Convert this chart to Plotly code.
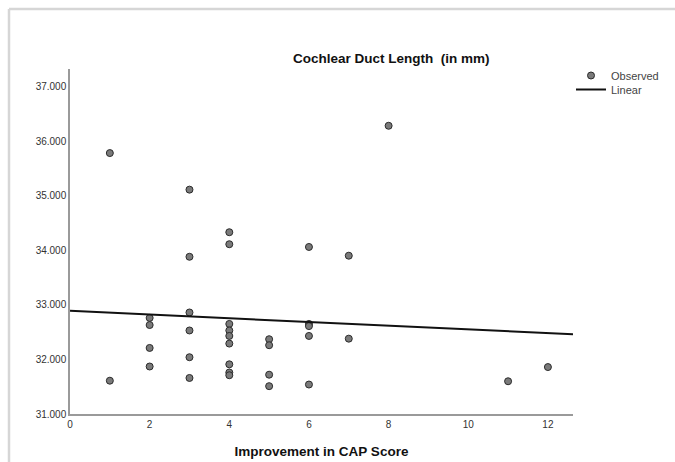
import plotly.graph_objects as go

# Improvement in CAP score (x) vs cochlear duct length in mm (y)
cap_improvement = [1, 1,
                   2, 2, 2, 2,
                   3, 3, 3, 3, 3, 3,
                   4, 4, 4, 4, 4, 4, 4, 4, 4,
                   5, 5, 5, 5,
                   6, 6, 6, 6, 6,
                   7, 7,
                   8,
                   11,
                   12]
duct_length = [35.78, 31.61,
               32.76, 32.63, 32.21, 31.87,
               35.11, 33.88, 32.86, 32.53, 32.04, 31.66,
               34.33, 34.11, 32.65, 32.53, 32.43, 32.29, 31.91, 31.76, 31.71,
               32.37, 32.26, 31.72, 31.51,
               34.06, 32.65, 32.61, 32.43, 31.54,
               33.90, 32.38,
               36.28,
               31.60,
               31.86]

# Linear fit line
linear_intercept = 32.89
linear_slope = -0.034
x_range = [0, 12.63]
y_range = [31, 37.32]
y_ticks = [31, 32, 33, 34, 35, 36, 37]
x_ticks = [0, 2, 4, 6, 8, 10, 12]

FONT = "Liberation Sans, Arial, sans-serif"

L, R, T, B = 70, 102, 69, 48
W, H = 675, 462
pw, ph = W - L - R, H - T - B

def px_x(p):
    return (p - L) / pw

def px_y(p):
    return (H - B - p) / ph

fig = go.Figure()
fig.add_trace(go.Scatter(
    x=cap_improvement, y=duct_length, mode="markers", name="Observed",
    legend="legend",
    marker=dict(size=7, color="#7a7a7a", line=dict(color="#2b2b2b", width=1)),
))
fit_y = [linear_intercept + linear_slope * x for x in x_range]
fig.add_trace(go.Scatter(
    x=x_range, y=fit_y, mode="lines", name="Linear", legend="legend2",
    line=dict(color="#111111", width=2),
))

leg_common = dict(xanchor="left", yanchor="top", font=dict(size=11, color="#444444"),
                  itemwidth=30, bgcolor="rgba(0,0,0,0)")

fig.update_layout(
    width=W, height=H,
    margin=dict(l=L, r=R, t=T, b=B, autoexpand=False),
    paper_bgcolor="white", plot_bgcolor="white",
    font=dict(family=FONT, color="#333333"),
    showlegend=True,
    legend=dict(x=px_x(571), y=px_y(61), **leg_common),
    legend2=dict(x=px_x(571), y=px_y(75), **leg_common),
    xaxis=dict(range=x_range, tickvals=x_ticks, showgrid=False, zeroline=False,
               showline=True, linecolor="#9a9a9a", linewidth=1.5, ticks="",
               tickfont=dict(size=10, color="#333333"),
               title=dict(text="<b>Improvement in CAP Score</b>",
                          font=dict(size=13.5, color="#111111"), standoff=18)),
    yaxis=dict(range=y_range, tickvals=y_ticks, tickformat=".3f", showgrid=False,
               zeroline=False, showline=True, linecolor="#9a9a9a", linewidth=1.5,
               ticks="", tickfont=dict(size=10, color="#333333")),
    annotations=[dict(text="<b>Cochlear Duct Length&nbsp; (in mm)</b>",
                      x=px_x(391), y=px_y(58), xref="paper", yref="paper",
                      showarrow=False, xanchor="center", yanchor="middle",
                      font=dict(size=13.5, color="#111111"))],
    shapes=[
        dict(type="line", xref="paper", yref="paper", x0=px_x(9), x1=px_x(9),
             y0=px_y(9), y1=px_y(H), line=dict(color="#d6d6d6", width=2.5)),
        dict(type="line", xref="paper", yref="paper", x0=px_x(9), x1=px_x(W),
             y0=px_y(9), y1=px_y(9), line=dict(color="#d6d6d6", width=2.5)),
    ],
)

fig.write_html("out.html")
